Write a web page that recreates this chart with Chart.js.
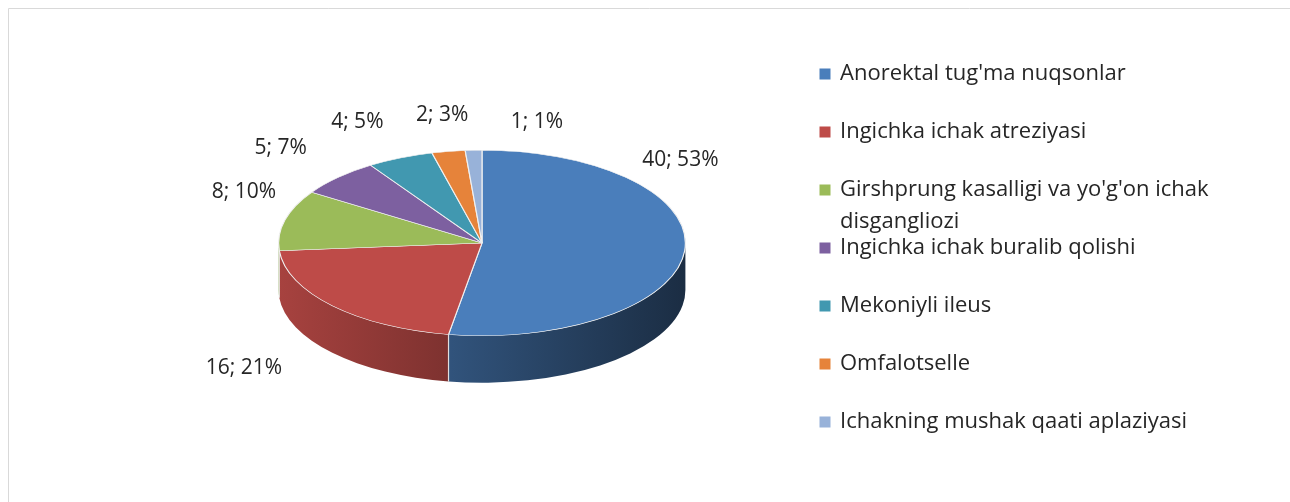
<!DOCTYPE html>
<html>
<head>
<meta charset="utf-8">
<script src="https://cdn.jsdelivr.net/npm/chart.js@4/dist/chart.umd.min.js"></script>
<style>
  html, body { margin: 0; padding: 0; background: #fff; }
  #wrap { width: 1290px; height: 502px; }
</style>
</head>
<body>
<div id="wrap"><canvas id="chartPie" width="1290" height="502"></canvas></div>
<script>
// data
const categorias = [
    "Anorektal tug'ma nuqsonlar",
    "Ingichka ichak atreziyasi",
    "Girshprung kasalligi va yo'g'on ichak disgangliozi",
    "Ingichka ichak buralib qolishi",
    "Mekoniyli ileus",
    "Omfalotselle",
    "Ichakning mushak qaati aplaziyasi"
];
const valores = [40, 16, 8, 5, 4, 2, 1];
const cores = ['#4a7ebb', '#be4b48', '#9bbb59', '#7d60a0', '#4198b0', '#e6833a', '#98b2d9'];

// percentages that add up to 100 (largest remainder, like Excel)
function percentuais(vals) {
    const total = vals.reduce((a, b) => a + b, 0);
    const raw = vals.map(v => v / total * 100);
    const out = raw.map(Math.floor);
    let falta = 100 - out.reduce((a, b) => a + b, 0);
    const ordem = raw.map((v, i) => i).sort((a, b) => (raw[b] - out[b]) - (raw[a] - out[a]));
    for (let j = 0; j < falta; j++) out[ordem[j]]++;
    return out;
}
const pct = percentuais(valores);

function shade(hex, f) {
    const n = parseInt(hex.slice(1), 16);
    const r = Math.round(((n >> 16) & 255) * f);
    const g = Math.round(((n >> 8) & 255) * f);
    const b = Math.round((n & 255) * f);
    return 'rgb(' + r + ',' + g + ',' + b + ')';
}

// fake 3D: side walls + vertical squash of the pie
const pie3d = {
    id: 'pie3d',
    beforeDatasetsDraw(chart, args, opts) {
        const ctx = chart.ctx;
        const arcs = chart.getDatasetMeta(0).data;
        if (!arcs.length) return;
        const cx = arcs[0].x, cy = arcs[0].y, r = arcs[0].outerRadius;
        const k = opts.tilt, d = opts.depth;
        arcs.forEach((arc, i) => {
            const a1 = Math.max(arc.startAngle, 0);
            const a2 = Math.min(arc.endAngle, Math.PI);
            if (a2 <= a1) return;
            const grad = ctx.createLinearGradient(cx - r, 0, cx + r, 0);
            grad.addColorStop(0, shade(cores[i], 0.88));
            grad.addColorStop(1, shade(cores[i], 0.36));
            ctx.beginPath();
            ctx.ellipse(cx, cy, r, r * k, 0, a1, a2, false);
            ctx.ellipse(cx, cy + d, r, r * k, 0, a2, a1, true);
            ctx.closePath();
            ctx.fillStyle = grad;
            ctx.fill();
        });
        // light edges between slices on the wall
        ctx.strokeStyle = 'rgba(235,235,235,0.9)';
        ctx.lineWidth = 1.2;
        arcs.forEach(arc => {
            const a = arc.endAngle;
            if (a > 0 && a < Math.PI) {
                const x = cx + r * Math.cos(a), y = cy + r * k * Math.sin(a);
                ctx.beginPath();
                ctx.moveTo(x, y);
                ctx.lineTo(x, y + d);
                ctx.stroke();
            }
        });
        ctx.save();
        ctx.translate(cx, cy);
        ctx.scale(1, k);
        ctx.translate(-cx, -cy);
    },
    afterDatasetsDraw(chart, args, opts) {
        const ctx = chart.ctx;
        ctx.restore();
        const arcs = chart.getDatasetMeta(0).data;
        const cx = arcs[0].x, cy = arcs[0].y, r = arcs[0].outerRadius;
        ctx.save();
        ctx.font = opts.font;
        ctx.fillStyle = '#262626';
        ctx.textAlign = 'center';
        ctx.textBaseline = 'middle';
        arcs.forEach((arc, i) => {
            const p = opts.labelPos[i];
            ctx.fillText(valores[i] + '; ' + pct[i] + '%', cx + p[0] * r, cy + p[1] * r);
        });
        ctx.restore();
    }
};

// legend at right + frame
const legendaLateral = {
    id: 'legendaLateral',
    afterDraw(chart, args, opts) {
        const ctx = chart.ctx;
        ctx.save();
        ctx.strokeStyle = '#d9d9d9';
        ctx.lineWidth = 1;
        ctx.beginPath();
        ctx.moveTo(8.5, chart.height);
        ctx.lineTo(8.5, 8.5);
        ctx.lineTo(chart.width, 8.5);
        ctx.stroke();

        ctx.font = opts.font;
        ctx.textBaseline = 'middle';
        categorias.forEach((txt, i) => {
            const y = opts.y0 + i * opts.step;
            const s = opts.marker;
            ctx.fillStyle = cores[i];
            ctx.fillRect(opts.x - 15 - s / 2, y - s / 2, s, s);
            ctx.fillStyle = '#262626';
            // simple word wrap
            const palavras = txt.split(' ');
            let linha = '', ly = y;
            palavras.forEach(w => {
                const teste = linha ? linha + ' ' + w : w;
                if (ctx.measureText(teste).width > opts.maxWidth && linha) {
                    ctx.fillText(linha, opts.x, ly);
                    linha = w;
                    ly += opts.lineHeight;
                } else {
                    linha = teste;
                }
            });
            ctx.fillText(linha, opts.x, ly);
        });
        ctx.restore();
    }
};

function initPie() {
    const ctx = document.getElementById('chartPie').getContext('2d');
    new Chart(ctx, {
        type: 'pie',
        data: {
            labels: categorias,
            datasets: [{
                data: valores,
                backgroundColor: cores,
                borderColor: '#f0f0f0',
                borderWidth: 1.2,
                hoverOffset: 0,
                clip: false
            }]
        },
        options: {
            responsive: false,
            animation: false,
            events: [],
            layout: { padding: { left: 278, right: 604, top: 39, bottom: 55 } },
            plugins: {
                legend: { display: false },
                tooltip: { enabled: false },
                pie3d: {
                    tilt: 0.456,
                    depth: 47,
                    font: '21px "Open Sans"',
                    labelPos: [[0.975, -0.407], [-1.17, 0.613], [-1.17, -0.25], [-0.99, -0.466],
                               [-0.613, -0.593], [-0.196, -0.627], [0.27, -0.593]]
                },
                legendaLateral: {
                    font: '22px "Open Sans"',
                    x: 840, y0: 74, step: 58, lineHeight: 32, marker: 11, maxWidth: 400
                }
            }
        },
        plugins: [pie3d, legendaLateral]
    });
}

window.addEventListener('DOMContentLoaded', () => {
    initPie();
});
</script>
</body>
</html>
